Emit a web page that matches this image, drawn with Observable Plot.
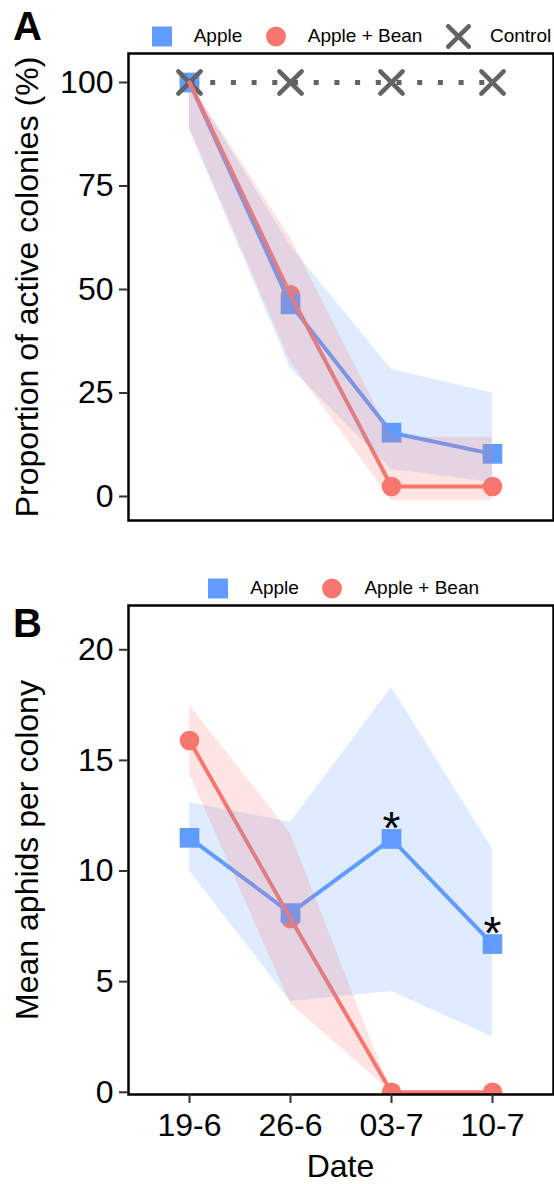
<!DOCTYPE html>
<html>
<head>
<meta charset="utf-8">
<script src="https://cdn.jsdelivr.net/npm/d3@7"></script>
<script src="https://cdn.jsdelivr.net/npm/@observablehq/plot@0.6"></script>
<style>
  html, body { margin: 0; padding: 0; background: white; }
  #page { position: relative; width: 554px; height: 1184px; background: white; overflow: hidden;
          font-family: "Liberation Sans", Arial, Helvetica, sans-serif; }
  .panel { position: absolute; left: 0; }
  .tag { position: absolute; left: 13px; font-size: 40px; font-weight: bold; line-height: 40px; color: #000; z-index: 6; }
  .xtitle { position: absolute; left: 128px; width: 425px; text-align: center; font-size: 32px; line-height: 36px; color: #000; z-index: 6; }
  .legend { position: absolute; display: flex; align-items: center; height: 22px; font-size: 19px; color: #000; z-index: 5; }
  .legend .item { display: flex; align-items: center; }
  .legend svg { display: block; }
  .legend .lab { margin-left: 22px; margin-right: 23.5px; white-space: nowrap; }
</style>
</head>
<body>
<div id="page"></div>
<script>
// ---------- data ----------
const dates = ["19-6", "26-6", "03-7", "10-7"];
const groups = ["Apple", "Apple + Bean", "Control"];
const colors = ["#619CFF", "#F8766D", "#636363"];

// Panel A: proportion of active colonies (%)
const activeApple   = [100, 46.4, 15.4, 10.3];
const activeAppleLo = [88.5, 31, 6.5, 3.4];
const activeAppleHi = [100, 60.5, 30.7, 25];
const activeBean    = [100, 48.7, 2.4, 2.4];
const activeBeanLo  = [89, 32.5, -1, -1];
const activeBeanHi  = [100, 62.5, 14.3, 14.3];
const activeControl = [100, 100, 100, 100];
const ticksA = [0, 25, 50, 75, 100];

// Panel B: mean aphids per colony
const aphidsApple   = [11.5, 8.1, 11.45, 6.7];
const aphidsAppleLo = [10.0, 4.1, 4.55, 2.5];
const aphidsAppleHi = [13.1, 12.2, 18.3, 11.0];
const aphidsBean    = [15.9, 7.85, 0, 0];
const aphidsBeanLo  = [14.4, 4.0, 0, 0];
const aphidsBeanHi  = [17.5, 11.7, 0, 0];
const ticksB = [0, 5, 10, 15, 20];
const sigDates = ["03-7", "10-7"];
const sigLabel = "*";

const titleA = "Proportion of active colonies (%)";
const titleB = "Mean aphids per colony";
const titleX = "Date";

// ---------- helpers ----------
const rows = (v, lo, hi) => dates.map((d, i) => ({date: d, value: v[i], lo: lo ? lo[i] : null, hi: hi ? hi[i] : null}));
const FONT = '"Liberation Sans", Arial, Helvetica, sans-serif';
const page = document.getElementById("page");

function seriesMarks(apple, bean, control) {
  const m = [
    Plot.dot(bean, {x: "date", y: "value", symbol: "circle", r: 9.8, fill: colors[1], stroke: "none", clip: true}),
    Plot.dot(apple, {x: "date", y: "value", symbol: "square", r: 11.1, fill: colors[0], stroke: "none", clip: true})
  ];
  if (control) {
    m.push(Plot.line(control, {x: "date", y: "value", stroke: colors[2], strokeWidth: 5, strokeDasharray: "5,15.7", strokeLinecap: "butt", clip: true}));
    m.push(Plot.dot(control, {x: "date", y: "value", symbol: "times", r: 10.2, stroke: colors[2], strokeWidth: 4.5, strokeLinecap: "round", clip: true}));
  }
  m.push(
    Plot.line(apple, {x: "date", y: "value", stroke: colors[0], strokeWidth: 4, clip: true}),
    Plot.line(bean, {x: "date", y: "value", stroke: colors[1], strokeWidth: 4, clip: true}),
    Plot.areaY(apple, {x: "date", y1: "lo", y2: "hi", fill: colors[0], fillOpacity: 0.2, clip: true}),
    Plot.areaY(bean, {x: "date", y1: "lo", y2: "hi", fill: colors[1], fillOpacity: 0.2, clip: true})
  );
  return m;
}

const yTitle = (t) => Plot.text([t], {frameAnchor: "left", textAnchor: "middle", dx: -101, rotate: -90, fontSize: 32, lineAnchor: "middle", fill: "black"});

// ---------- Panel A ----------
const appleA = rows(activeApple, activeAppleLo, activeAppleHi);
const beanA = rows(activeBean, activeBeanLo, activeBeanHi);
const controlA = rows(activeControl);

const plotA = Plot.plot({
  width: 554, height: 540,
  marginLeft: 128, marginRight: 1, marginTop: 53, marginBottom: 20,
  style: {background: "transparent", fontFamily: FONT, overflow: "visible", color: "black"},
  x: {type: "point", domain: dates, padding: 0.6, axis: null},
  y: {domain: [-5.8, 107], axis: null},
  marks: [
    ...seriesMarks(appleA, beanA, controlA),
    Plot.frame({stroke: "black", strokeWidth: 2.5}),
    Plot.axisY({ticks: ticksA, tickSize: 9, tickPadding: 6, fontSize: 32, label: null, stroke: "#333", strokeWidth: 2, fill: "black"}),
    yTitle(titleA)
  ]
});
const wrapA = document.createElement("div");
wrapA.className = "panel"; wrapA.style.top = "0px";
wrapA.appendChild(plotA);
page.appendChild(wrapA);

// ---------- Panel B ----------
const appleB = rows(aphidsApple, aphidsAppleLo, aphidsAppleHi);
const beanB = rows(aphidsBean, aphidsBeanLo, aphidsBeanHi);
const sigB = appleB.filter(d => sigDates.includes(d.date));

const plotB = Plot.plot({
  width: 554, height: 580,
  marginLeft: 128, marginRight: 1, marginTop: 45, marginBottom: 46,
  style: {background: "transparent", fontFamily: FONT, overflow: "visible", color: "black"},
  x: {type: "point", domain: dates, padding: 0.6, axis: null},
  y: {domain: [-0.1, 22], axis: null},
  marks: [
    ...seriesMarks(appleB, beanB, null),
    Plot.text(sigB, {x: "date", y: "value", text: () => sigLabel, fontSize: 46, dy: -10, fill: "black"}),
    Plot.frame({stroke: "black", strokeWidth: 2.5}),
    Plot.axisY({ticks: ticksB, tickSize: 9, tickPadding: 6, fontSize: 32, label: null, stroke: "#333", strokeWidth: 2, fill: "black"}),
    Plot.axisX({tickSize: 9, tickPadding: 10, fontSize: 32, label: null, stroke: "#333", strokeWidth: 2, fill: "black"}),
    yTitle(titleB)
  ]
});
const wrapB = document.createElement("div");
wrapB.className = "panel"; wrapB.style.top = "560px";
wrapB.appendChild(plotB);
page.appendChild(wrapB);

// x-axis title below panel B
const xt = document.createElement("div");
xt.className = "xtitle"; xt.textContent = titleX; xt.style.top = "1148px";
page.appendChild(xt);

// ---------- tags ----------
function tag(text, top) {
  const d = document.createElement("div");
  d.className = "tag"; d.textContent = text; d.style.top = top + "px";
  page.appendChild(d);
}
tag("A", 6);
tag("B", 603);

// ---------- legends ----------
function swatch(kind, color) {
  const ns = "http://www.w3.org/2000/svg";
  const s = document.createElementNS(ns, "svg");
  const w = kind === "times" ? 25 : 20;
  s.setAttribute("width", w); s.setAttribute("height", 25);
  s.setAttribute("viewBox", `${-w / 2} -12.5 ${w} 25`);
  let el;
  if (kind === "square") {
    el = document.createElementNS(ns, "rect");
    el.setAttribute("x", -10); el.setAttribute("y", -10);
    el.setAttribute("width", 20); el.setAttribute("height", 20);
    el.setAttribute("fill", color);
  } else if (kind === "circle") {
    el = document.createElementNS(ns, "circle");
    el.setAttribute("r", 10); el.setAttribute("fill", color);
  } else {
    el = document.createElementNS(ns, "path");
    el.setAttribute("d", "M-10.2,-10.2L10.2,10.2M-10.2,10.2L10.2,-10.2");
    el.setAttribute("stroke", color); el.setAttribute("stroke-width", 4.5);
    el.setAttribute("stroke-linecap", "round"); el.setAttribute("fill", "none");
  }
  s.appendChild(el);
  return s;
}
function legend(items, left, top) {
  const L = document.createElement("div");
  L.className = "legend"; L.style.left = left + "px"; L.style.top = top + "px";
  items.forEach(([label, kind, color], i) => {
    const it = document.createElement("div"); it.className = "item";
    it.appendChild(swatch(kind, color));
    const t = document.createElement("span"); t.className = "lab"; t.textContent = label;
    if (kind === "times") t.style.marginLeft = "19px";
    if (i === items.length - 1) t.style.marginRight = "0px";
    it.appendChild(t);
    L.appendChild(it);
  });
  page.appendChild(L);
}
legend([[groups[0], "square", colors[0]], [groups[1], "circle", colors[1]], [groups[2], "times", colors[2]]], 151.7, 25.3);
legend([[groups[0], "square", colors[0]], [groups[1], "circle", colors[1]]], 208.3, 577.3);
</script>
</body>
</html>
